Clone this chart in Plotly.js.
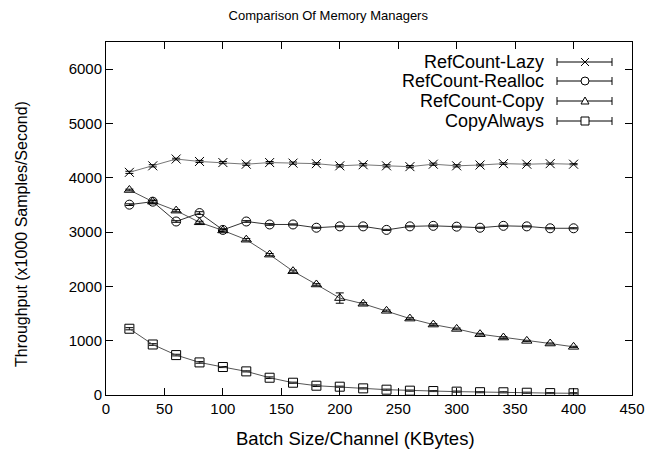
<!DOCTYPE html>
<html>
<head>
<meta charset="utf-8">
<script src="https://cdn.plot.ly/plotly-3.0.1.min.js"></script>
<style>
html,body{margin:0;padding:0;background:#fff;}
#chart{width:650px;height:456px;}
</style>
</head>
<body>
<div id="chart"></div>
<script>
// ---- data ----
var batchSize = [20,40,60,80,100,120,140,160,180,200,220,240,260,280,300,320,340,360,380,400];
var lazy      = [4100,4220,4345,4300,4280,4250,4280,4270,4260,4220,4240,4220,4205,4250,4220,4235,4260,4250,4260,4250];
var lazyErr   = [20,20,15,20,20,20,20,20,15,20,20,20,20,20,20,15,15,15,10,10];
var realloc   = [3505,3560,3195,3350,3040,3195,3140,3140,3080,3105,3105,3040,3105,3115,3100,3080,3115,3105,3070,3070];
var reallocErr= [15,30,15,25,20,15,15,10,10,10,10,10,10,15,10,10,10,10,10,10];
var copy      = [3775,3560,3395,3180,3030,2860,2585,2280,2035,1785,1680,1550,1407,1297,1217,1120,1058,997,948,887];
var copyErr   = [15,20,20,20,20,20,20,20,15,95,20,15,15,15,15,15,15,10,10,10];
var copyAlways= [1220,930,735,600,515,435,318,226,171,153,122,98,80,73,62,52,50,42,35,32];
var copyAlwaysErr=[20,15,15,15,10,10,15,10,15,10,10,10,10,10,10,10,10,10,10,10];
var seriesNames = ["RefCount-Lazy","RefCount-Realloc","RefCount-Copy","CopyAlways"];
var xTicks = [0,50,100,150,200,250,300,350,400,450];
var yTicks = [0,1000,2000,3000,4000,5000,6000];

// ---- layout geometry ----
var W=650, H=456, L=106, R=632, T=42, B=395;
function px(x){return (x-L)/(R-L);}
function py(y){return (B-y)/(B-T);}

var FONT = "Liberation Sans, Arial, Helvetica, sans-serif";
var symbols = ["x-thin-open","circle-open","triangle-up-open","square-open"];
var ys = [lazy, realloc, copy, copyAlways];
var errs = [lazyErr, reallocErr, copyErr, copyAlwaysErr];
var lineColors = ["#777","#333","#555","#555"];

var traces = ys.map(function(v,i){
  return {
    x: batchSize, y: v, name: seriesNames[i], type:"scatter", mode:"lines+markers",
    line:{color:lineColors[i], width:1},
    marker:{symbol:symbols[i], size:9, color:"#000", line:{color:"#111", width:1}},
    error_y:{type:"data", array:errs[i], visible:true, color:"#000", thickness:1, width:4},
    showlegend:false, hoverinfo:"skip"
  };
});

// manual gnuplot-style legend (text right, symbol on the right)
var annotations = [];
var shapes = [];
var rowY = [62,81,101,121];
var textRight = 546, symL = 557, symR = 612, symC = 585, cap = 4, ms = 4;
seriesNames.forEach(function(n,i){
  var y = rowY[i];
  annotations.push({xref:"paper", yref:"paper", x:px(textRight), y:py(y), text:n, showarrow:false,
    xanchor:"right", yanchor:"middle", font:{family:FONT, size:18, color:"#000"}});
  var ln = {color:"#000", width:1};
  shapes.push({type:"line", xref:"paper", yref:"paper", x0:px(symL), x1:px(symR), y0:py(y), y1:py(y), line:ln});
  shapes.push({type:"line", xref:"paper", yref:"paper", x0:px(symL), x1:px(symL), y0:py(y-cap), y1:py(y+cap), line:ln});
  shapes.push({type:"line", xref:"paper", yref:"paper", x0:px(symR), x1:px(symR), y0:py(y-cap), y1:py(y+cap), line:ln});
  if(i===0){
    shapes.push({type:"line", xref:"paper", yref:"paper", x0:px(symC-ms), x1:px(symC+ms), y0:py(y-ms), y1:py(y+ms), line:ln});
    shapes.push({type:"line", xref:"paper", yref:"paper", x0:px(symC-ms), x1:px(symC+ms), y0:py(y+ms), y1:py(y-ms), line:ln});
  } else if(i===1){
    shapes.push({type:"circle", xref:"paper", yref:"paper", x0:px(symC-ms), x1:px(symC+ms), y0:py(y-ms), y1:py(y+ms), line:ln, fillcolor:"#fff"});
  } else if(i===2){
    var p = "M"+px(symC-ms)+","+py(y+ms-1)+" L"+px(symC+ms)+","+py(y+ms-1)+" L"+px(symC)+","+py(y-ms)+" Z";
    shapes.push({type:"path", xref:"paper", yref:"paper", path:p, line:ln, fillcolor:"#fff"});
  } else {
    shapes.push({type:"rect", xref:"paper", yref:"paper", x0:px(symC-ms), x1:px(symC+ms), y0:py(y-ms), y1:py(y+ms), line:ln, fillcolor:"#fff"});
  }
});

// axis titles as annotations for precise placement
annotations.push({xref:"paper", yref:"paper", x:px(355), y:py(438), text:"Batch Size/Channel (KBytes)", showarrow:false,
  xanchor:"center", yanchor:"middle", font:{family:FONT, size:18.5, color:"#000"}});
annotations.push({xref:"paper", yref:"paper", x:px(21), y:py(234), text:"Throughput (x1000 Samples/Second)", showarrow:false,
  textangle:-90, xanchor:"center", yanchor:"middle", font:{family:FONT, size:16, color:"#000"}});

var layout = {
  width:W, height:H,
  margin:{l:L, r:W-R, t:T, b:H-B, pad:0},
  paper_bgcolor:"#fff", plot_bgcolor:"#fff",
  title:{text:"Comparison Of Memory Managers", x:0.505, xref:"container", y:1-15/H, yref:"container", yanchor:"middle",
    font:{family:FONT, size:13, color:"#000"}},
  showlegend:false,
  xaxis:{range:[0,450], tickvals:xTicks, ticktext:xTicks.map(String), ticks:"inside", ticklen:7, tickcolor:"#000",
    showline:true, linecolor:"#000", linewidth:1, mirror:"allticks", showgrid:false, zeroline:false,
    tickfont:{family:FONT, size:15, color:"#000"}},
  yaxis:{range:[0,6500], tickvals:yTicks, ticktext:yTicks.map(String), ticks:"inside", ticklen:7, tickcolor:"#000",
    showline:true, linecolor:"#000", linewidth:1, mirror:"allticks", showgrid:false, zeroline:false,
    tickfont:{family:FONT, size:15, color:"#000"}},
  annotations:annotations,
  shapes:shapes
};

Plotly.newPlot("chart", traces, layout, {staticPlot:true, displayModeBar:false});
</script>
</body>
</html>
